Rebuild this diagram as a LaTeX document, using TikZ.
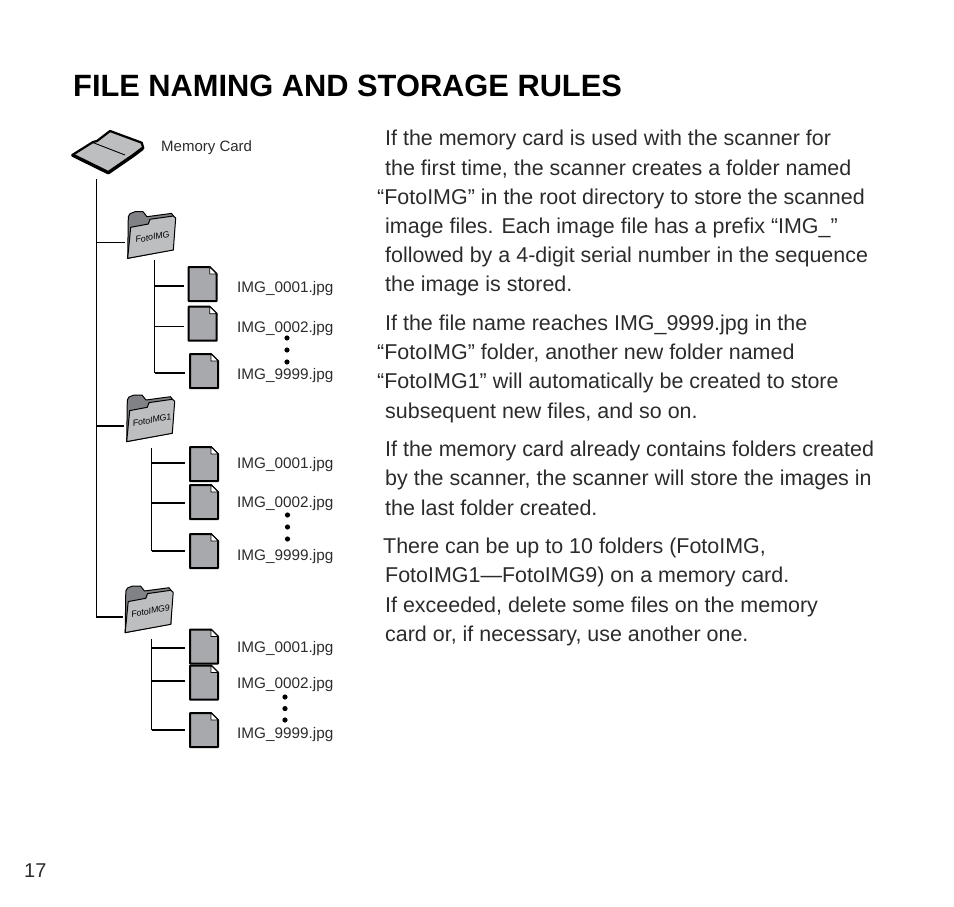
\documentclass[tikz,border=0pt]{standalone}
\usepackage{fontspec}
\setmainfont{Liberation Sans}
\usepackage{tikz}
\usetikzlibrary{calc}

\definecolor{sheetgrey}{HTML}{A7A9AC}
\definecolor{flapgrey}{HTML}{808285}
\definecolor{paneIgrey}{HTML}{BCBEC0}
\definecolor{inkgrey}{HTML}{2B2B2B}

\tikzset{
	rootline/.style = {line width = 1.2pt},
	thinbranch/.style = {line width = 1.2pt},
	thickbranch/.style = {line width = 2pt},
	filelabel/.style = {anchor = base west, text = inkgrey, font = \fontsize{15.3}{15.3}\selectfont, inner sep = 0pt},
	bodyline/.style = {anchor = base west, text = inkgrey, font = \fontsize{21.45}{21.45}\selectfont, inner sep = 0pt},
	filepic/.pic = {
		\draw [line width = 2pt, fill = sheetgrey, line join = round] (0,0) -- (21,0) -- (28,7) -- (28,34) -- (0,34) -- cycle;
		\draw [line width = 0.7pt, fill = white] (21,0) -- (21,7) -- (28,7) -- cycle;
		\coordinate (-port) at (-5,#1);
	},
	folderpic/.pic = {
		\draw [line width = 1pt, fill = flapgrey, line join = round] (0.7,46.6) -- (1.3,5) -- (3,2) -- (8,0) -- (16,0) -- (20,5) -- (44.5,1.7) -- (47,5) -- (46.3,38) -- cycle;
		\draw [line width = 1pt, fill = paneIgrey, line join = round] (0.7,46.6) -- (3.7,15.6) -- (21.3,12.3) -- (23,7.6) -- (46.3,4.3) -- (48.7,6.3) -- (46.3,38.3) -- cycle;
		\coordinate (-port) at (-2,31);
	},
	folderlabel/.style = {rotate = 10, inner sep = 0pt, font = \itshape\fontsize{8.8}{8.8}\selectfont}
}

\begin{document}
\begin{tikzpicture}[x = 1pt, y = -1pt]
	\useasboundingbox (0,0) rectangle (954,907);

	% heading and page number
	\node (heading) [anchor = base west, inner sep = 0pt, font = \fontsize{30.8}{30.8}\selectfont\bfseries] at (73,96) {FILE NAMING AND STORAGE RULES};
	\node (pageno) [filelabel, font = \fontsize{20}{20}\selectfont] at (24,877) {17};

	% memory card
	\draw [line width = 2.2pt, fill = paneIgrey, line join = round] (72.3,155) -- (93,142) -- (97,141) -- (110,131) -- (141.7,142.7) -- (143.3,148) -- (134,155) -- (108.3,172.7) -- cycle;
	\draw [line width = 3.4pt, line join = round] (72.3,155) -- (108.3,172.7) -- (134,155) -- (142.5,148.5);
	\draw [line width = 0.9pt] (93.3,142.7) -- (125,155);
	\node (cardname) [filelabel, font = \fontsize{15}{15}\selectfont] at (161,151) {Memory Card};
	\coordinate (cardfoot) at (96.3,179);

	% folders
	\pic (foldA) at (127,211.7) {folderpic};
	\pic (foldB) at (126,395) {folderpic};
	\pic (foldC) at (124.5,586) {folderpic};
	\node (foldAname) [folderlabel] at (152.5,237) {FotoIMG};
	\node (foldBname) [folderlabel] at (152,420) {FotoIMG1};
	\node (foldCname) [folderlabel] at (150.5,611) {FotoIMG9};

	% image files: name / x / y / port height / text baseline
	\foreach \n/\x/\y/\p/\t/\b in {
		fa1/188.7/267/18.7/IMG\_0001.jpg/292,
		fa2/188.7/306.7/20/IMG\_0002.jpg/332,
		fa3/190/354/19/IMG\_9999.jpg/379,
		fb1/190/447/16/IMG\_0001.jpg/468,
		fb2/190/485/18/IMG\_0002.jpg/507,
		fb3/190/534/17/IMG\_9999.jpg/560,
		fc1/190/629.5/18.5/IMG\_0001.jpg/652,
		fc2/190/665.5/15.5/IMG\_0002.jpg/688,
		fc3/190/713/17/IMG\_9999.jpg/738} {
		\pic (\n) at (\x,\y) {filepic=\p};
		\node (\n name) [filelabel] at (237,\b) {\t};
	}

	% tree lines
	\coordinate (trunkA) at (154.5,260);
	\coordinate (trunkB) at (151.5,448);
	\coordinate (trunkC) at (151.5,639);
	\draw [rootline] (cardfoot) |- (foldC-port);
	\draw [rootline] (cardfoot |- foldA-port) -- (foldA-port);
	\draw [rootline] (cardfoot |- foldB-port) -- (foldB-port);
	\draw [rootline] (trunkA) -- (trunkA |- fa3-port);
	\draw [rootline] (trunkB) -- (trunkB |- fb3-port);
	\draw [rootline] (trunkC) -- (trunkC |- fc3-port);
	\foreach \s/\n/\w in {trunkA/fa1/thickbranch, trunkA/fa2/thinbranch, trunkA/fa3/thickbranch,
		trunkB/fb1/thinbranch, trunkB/fb2/thinbranch, trunkB/fb3/thickbranch,
		trunkC/fc1/thinbranch, trunkC/fc2/thinbranch, trunkC/fc3/thinbranch} {
		\draw [\w] (\s |- \n-port) -- (\n-port);
	}

	% dots between the names
	\foreach \x/\y in {287/338, 287/350, 287/362, 287.5/515, 287.5/527, 287.5/539, 285/697, 285/708.6, 285/720} {
		\fill (\x,\y) circle (2.6);
	}

	% body text
	\foreach \x/\b/\t [count = \i] in {
		385/146/{If the memory card is used with the scanner for},
		385/175/{the first time, the scanner creates a folder named},
		377/204/{“FotoIMG” in the root directory to store the scanned},
		385/233/{image files. Each image file has a prefix “IMG\_”},
		385/262/{followed by a 4-digit serial number in the sequence},
		385/291/{the image is stored.},
		385/330/{If the file name reaches IMG\_9999.jpg in the},
		377/359/{“FotoIMG” folder, another new folder named},
		377/388/{“FotoIMG1” will automatically be created to store},
		385/418/{subsequent new files, and so on.},
		385/456/{If the memory card already contains folders created},
		385/485/{by the scanner, the scanner will store the images in},
		385/515/{the last folder created.},
		383/553/{There can be up to 10 folders (FotoIMG,},
		385/582/{FotoIMG1—FotoIMG9) on a memory card.},
		385/612/{If exceeded, delete some files on the memory},
		385/641/{card or, if necessary, use another one.}} {
		\node (line\i) [bodyline] at (\x,\b) {\t};
	}
\end{tikzpicture}
\end{document}
